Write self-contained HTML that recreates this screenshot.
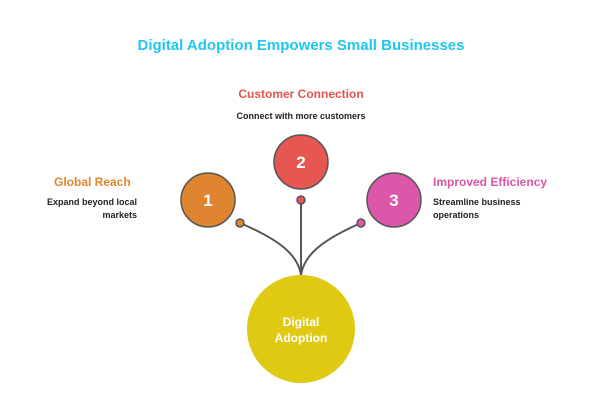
<html><head><style>body{margin:0;background:#fff;width:602px;height:401px;overflow:hidden}</style></head><body>
<svg width="602" height="401" viewBox="0 0 602 401" xmlns="http://www.w3.org/2000/svg" font-family="Liberation Sans, sans-serif" font-weight="bold">
<text x="301" y="50" text-anchor="middle" font-size="15" fill="#1fc6ee">Digital Adoption Empowers Small Businesses</text>
<text x="301" y="98" text-anchor="middle" font-size="12" fill="#e5534f">Customer Connection</text>
<text x="301" y="119" text-anchor="middle" font-size="9" fill="#222">Connect with more customers</text>
<text x="54" y="186" font-size="12" fill="#e0852f">Global Reach</text>
<text x="137" y="205" text-anchor="end" font-size="9" fill="#222">Expand beyond local</text>
<text x="137" y="218" text-anchor="end" font-size="9" fill="#222">markets</text>
<text x="433" y="186" font-size="12" fill="#da55a8">Improved Efficiency</text>
<text x="433" y="205" font-size="9" fill="#222">Streamline business</text>
<text x="433" y="218" font-size="9" fill="#222">operations</text>
<g stroke="#555" stroke-width="2" fill="none">
<path d="M240 223 C280 240 298 255 301 275"/>
<path d="M301 200 L301 275"/>
<path d="M361 223 C322 240 304 255 301 275"/>
</g>
<circle cx="301" cy="329" r="54" fill="#dfc913"/>
<text x="301" y="326" text-anchor="middle" font-size="12" fill="#fff">Digital</text>
<text x="301" y="342" text-anchor="middle" font-size="12" fill="#fff">Adoption</text>
<g stroke="#555" stroke-width="1.5">
<circle cx="208" cy="200" r="27" fill="#e0852f"/>
<circle cx="301" cy="162" r="27" fill="#e65752"/>
<circle cx="394" cy="200" r="27" fill="#dc57a9"/>
<circle cx="240" cy="223" r="4" fill="#e0852f"/>
<circle cx="301" cy="200" r="4" fill="#e65752"/>
<circle cx="361" cy="223" r="4" fill="#dc57a9"/>
</g>
<g font-size="17" fill="#fff" text-anchor="middle">
<text x="208" y="206">1</text><text x="301" y="168">2</text><text x="394" y="206">3</text>
</g>
</svg></body></html>
